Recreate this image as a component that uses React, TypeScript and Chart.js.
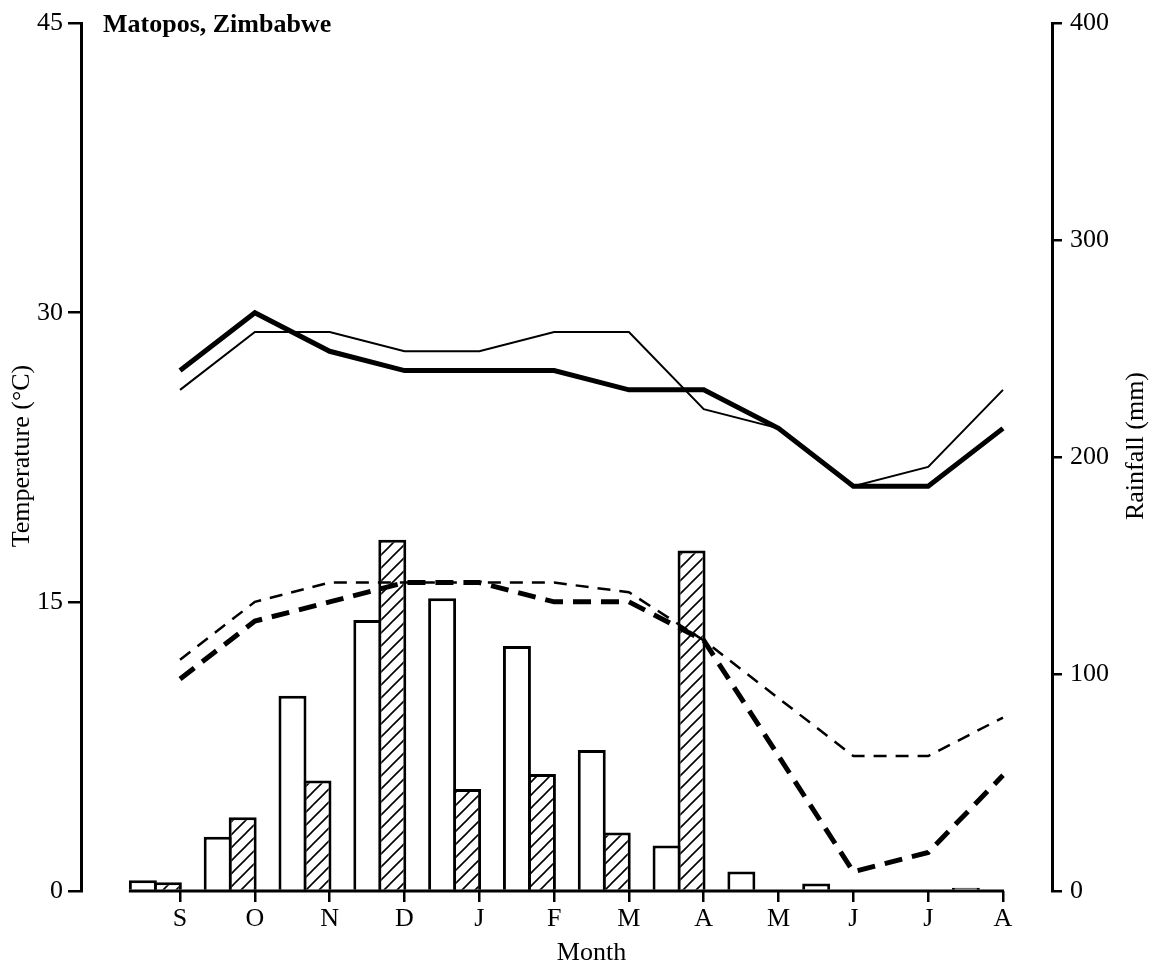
import React, { useEffect, useRef } from "react";
import { Chart, registerables } from "chart.js";

Chart.register(...registerables);

// Month ticks, September to August
const MONTHS = ["S", "O", "N", "D", "J", "F", "M", "A", "M", "J", "J", "A"];

// Mean monthly maximum temperatures (°C)
const MAX_TEMP_HEAVY = [27, 30, 28, 27, 27, 27, 26, 26, 24, 21, 21, 24];
const MAX_TEMP_LIGHT = [26, 29, 29, 28, 28, 29, 29, 25, 24, 21, 22, 26];
// Mean monthly minimum temperatures (°C)
const MIN_TEMP_HEAVY = [11, 14, 15, 16, 16, 15, 15, 13, 7, 1, 2, 6];
const MIN_TEMP_LIGHT = [12, 15, 16, 16, 16, 16, 15.5, 13, 10, 7, 7, 9];

// Monthly rainfall (mm)
const RAIN_OPEN = [5, 25, 90, 125, 135, 113, 65, 21, 9, 3.5, 0, 1.5];
const RAIN_HATCHED = [4, 34, 51, 162, 47, 54, 27, 157, 0, 0, 0, 0];

// Axis ticks
const TEMP_TICKS = [0, 15, 30, 45];
const RAIN_TICKS = [0, 100, 200, 300, 400];

const W = 1155;
const H = 964;
const SERIF = '"Liberation Serif", "Times New Roman", Times, serif';

function makeHatch(): CanvasPattern | string {
  const s = 13;
  const c = document.createElement("canvas");
  c.width = s;
  c.height = s;
  const g = c.getContext("2d");
  if (!g) return "#fff";
  g.fillStyle = "#fff";
  g.fillRect(0, 0, s, s);
  g.strokeStyle = "#000";
  g.lineWidth = 1.6;
  g.beginPath();
  g.moveTo(-1, s + 1);
  g.lineTo(s + 1, -1);
  g.moveTo(-2, 2);
  g.lineTo(2, -2);
  g.moveTo(s - 2, s + 2);
  g.lineTo(s + 2, s - 2);
  g.stroke();
  const p = g.createPattern(c, "repeat");
  return p || "#fff";
}

// Baseline under the bars plus the chart's text labels
const decorations = {
  id: "decorations",
  afterDraw(chart: any) {
    const { ctx, chartArea, scales } = chart;
    const x = scales.x;
    const openMeta = chart.getDatasetMeta(4);
    const firstBar = openMeta.data[0];
    const xStart = firstBar ? firstBar.x - firstBar.width / 2 : chartArea.left;
    const xEnd = x.getPixelForValue(MONTHS.length - 1);
    ctx.save();
    ctx.strokeStyle = "#000";
    ctx.lineWidth = 3;
    ctx.beginPath();
    ctx.moveTo(xStart, chartArea.bottom);
    ctx.lineTo(xEnd + 1, chartArea.bottom);
    ctx.stroke();

    ctx.fillStyle = "#000";
    ctx.font = `bold 26px ${SERIF}`;
    ctx.textAlign = "left";
    ctx.textBaseline = "alphabetic";
    ctx.fillText("Matopos, Zimbabwe", 103, 32);

    ctx.font = `26px ${SERIF}`;
    ctx.textAlign = "center";
    ctx.fillText("Month", (x.getPixelForValue(0) + xEnd) / 2, 960);

    ctx.textBaseline = "middle";
    ctx.save();
    ctx.translate(22, 456);
    ctx.rotate(-Math.PI / 2);
    ctx.fillText("Temperature (°C)", 0, 0);
    ctx.restore();

    ctx.save();
    ctx.translate(1136, 446);
    ctx.rotate(-Math.PI / 2);
    ctx.fillText("Rainfall (mm)", 0, 0);
    ctx.restore();
    ctx.restore();
  },
};

export default function App() {
  const ref = useRef<HTMLCanvasElement | null>(null);

  useEffect(() => {
    const canvas = ref.current;
    if (!canvas) return;
    const hatch = makeHatch();
    const tickFont = { family: SERIF, size: 26 };
    const pairShift = -0.33;

    const line = (data: number[], width: number, dash: number[]) => ({
      type: "line" as const,
      data: data.map((v, i) => ({ x: i, y: v })),
      yAxisID: "yT",
      borderColor: "#000",
      borderWidth: width,
      borderDash: dash,
      borderJoinStyle: "miter" as const,
      borderCapStyle: "butt" as const,
      pointRadius: 0,
      tension: 0,
      fill: false,
      order: 0,
    });

    const bars = (data: number[], bg: any, label: string) => ({
      type: "bar" as const,
      label,
      data: data.map((v, i) => ({ x: i + pairShift, y: v })),
      yAxisID: "yR",
      backgroundColor: bg,
      borderColor: "#000",
      borderWidth: 3,
      borderSkipped: "start" as const,
      categoryPercentage: 0.668,
      barPercentage: 1.12,
      order: 1,
    });

    const chart = new Chart(canvas, {
      type: "bar",
      data: {
        datasets: [
          { ...line(MAX_TEMP_HEAVY, 5, []), label: "Max temperature (heavy)" },
          { ...line(MAX_TEMP_LIGHT, 2, []), label: "Max temperature (light)" },
          { ...line(MIN_TEMP_HEAVY, 5, [18, 10]), label: "Min temperature (heavy)" },
          { ...line(MIN_TEMP_LIGHT, 2.5, [13, 9]), label: "Min temperature (light)" },
          bars(RAIN_OPEN, "#fff", "Rainfall (open)"),
          bars(RAIN_HATCHED, hatch, "Rainfall (hatched)"),
        ] as any,
      },
      options: {
        responsive: false,
        animation: false,
        devicePixelRatio: 1,
        events: [],
        layout: { padding: { top: 22, left: 0, right: 0, bottom: 0 } },
        plugins: {
          legend: { display: false },
          tooltip: { enabled: false },
          title: { display: false },
        },
        scales: {
          x: {
            type: "linear",
            position: "bottom",
            min: -1.324,
            max: 11.655,
            offset: false,
            afterBuildTicks: (s: any) => {
              s.ticks = MONTHS.map((_, i) => ({ value: i }));
            },
            afterFit: (s: any) => {
              s.height = 73;
            },
            ticks: {
              autoSkip: false,
              maxRotation: 0,
              minRotation: 0,
              padding: 2,
              color: "#000",
              font: tickFont,
              callback: (v: any) => MONTHS[Math.round(Number(v))] ?? "",
            },
            grid: {
              offset: false,
              drawOnChartArea: false,
              drawTicks: true,
              tickLength: 11,
              lineWidth: 2.5,
              color: "#000",
            },
            border: { display: false },
          },
          yT: {
            type: "linear",
            position: "left",
            min: 0,
            max: 45,
            afterBuildTicks: (s: any) => {
              s.ticks = TEMP_TICKS.map((v) => ({ value: v }));
            },
            afterFit: (s: any) => {
              s.width = 81;
            },
            ticks: { padding: 5, color: "#000", font: tickFont },
            grid: {
              drawOnChartArea: false,
              drawTicks: true,
              tickLength: 13,
              lineWidth: 2.5,
              color: "#000",
            },
            border: { display: true, width: 3, color: "#000" },
          },
          yR: {
            type: "linear",
            position: "right",
            min: 0,
            max: 400,
            afterBuildTicks: (s: any) => {
              s.ticks = RAIN_TICKS.map((v) => ({ value: v }));
            },
            afterFit: (s: any) => {
              s.width = 103;
            },
            ticks: { padding: 8, color: "#000", font: tickFont },
            grid: {
              drawOnChartArea: false,
              drawTicks: true,
              tickLength: 10,
              lineWidth: 2.5,
              color: "#000",
            },
            border: { display: true, width: 3, color: "#000" },
          },
        },
      } as any,
      plugins: [decorations],
    });

    return () => chart.destroy();
  }, []);

  return (
    <div
      style={{
        position: "fixed",
        left: 0,
        top: 0,
        width: W,
        height: H,
        background: "#fff",
      }}
    >
      <canvas ref={ref} width={W} height={H} style={{ display: "block" }} />
    </div>
  );
}
